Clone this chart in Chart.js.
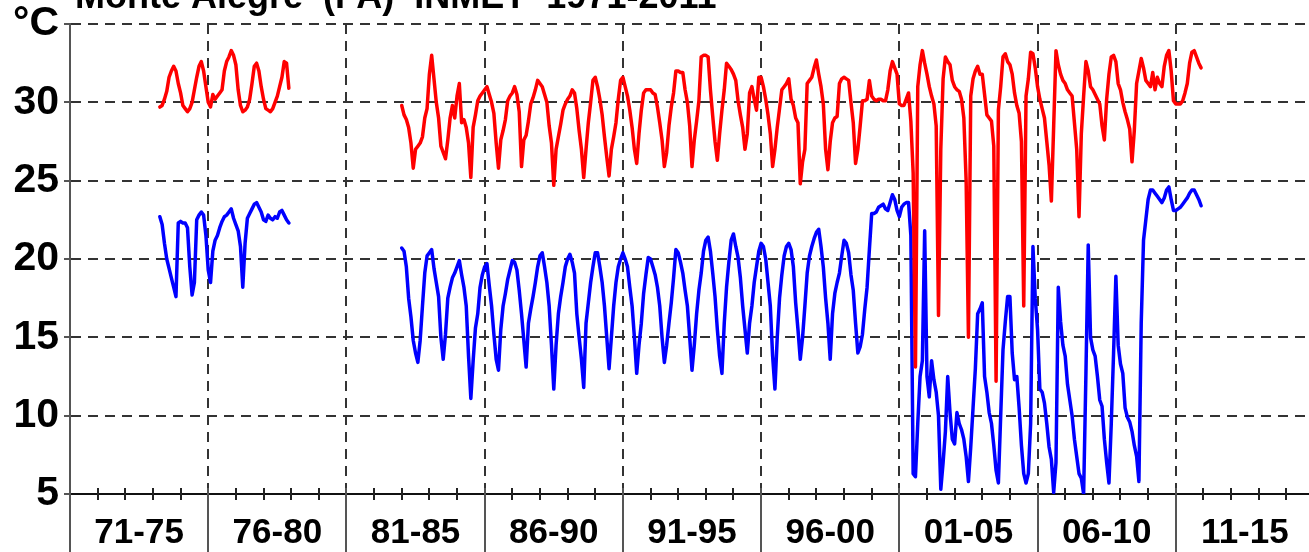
<!DOCTYPE html>
<html>
<head>
<meta charset="utf-8">
<script src="https://cdn.jsdelivr.net/npm/chart.js@4.4.1/dist/chart.umd.min.js"></script>
<style>
    html, body { margin: 0; padding: 0; background: #fff; overflow: hidden; }
    #wrap { position: absolute; left: 0; top: -40px; width: 1340px; height: 600px; }
</style>
</head>
<body>
<div id="wrap"><canvas id="chart" width="1340" height="600"></canvas></div>
<script>
const chartTitle = 'Monte Alegre  (PA)  INMET  1971-2011';
const periodLabels = ['71-75', '76-80', '81-85', '86-90', '91-95', '96-00', '01-05', '06-10', '11-15'];
const yTicks = [5, 10, 15, 20, 25, 30, 35];

// first run of monthly data: Apr 1974 - Dec 1978
const seg1Start = 1974 + 3 / 12;
const tmax1 = [
    29.7, 29.8, 30.2, 30.7, 31.6, 32.0, 32.3, 32.0, 31.2,
    30.6, 29.8, 29.6, 29.4, 29.6, 30.0, 30.8, 31.6, 32.3, 32.6, 32.0, 31.0,
    30.0, 29.7, 30.5, 30.2, 30.4, 30.6, 30.8, 32.0, 32.6, 32.9, 33.3, 33.0,
    32.4, 30.8, 29.8, 29.4, 29.5, 29.7, 30.2, 31.2, 32.3, 32.5, 32.0, 31.0,
    30.2, 29.6, 29.5, 29.4, 29.6, 30.0, 30.4, 31.0, 31.6, 32.6, 32.5, 30.9
];
const tmin1 = [
    22.7, 22.2, 21.0, 20.0, 19.4, 18.8, 18.2, 17.6, 22.3,
    22.4, 22.3, 22.3, 22.0, 19.5, 17.7, 18.5, 22.5, 22.8, 23.0, 22.8, 21.5,
    19.3, 18.5, 20.5, 21.2, 21.5, 22.0, 22.4, 22.7, 22.8, 23.0, 23.2, 22.6,
    22.2, 21.8, 20.8, 18.2, 21.0, 22.6, 22.9, 23.2, 23.5, 23.6, 23.3, 23.0,
    22.5, 22.4, 22.8, 22.6, 22.5, 22.7, 22.6, 23.0, 23.1, 22.8, 22.5, 22.3
];

// second run: Jan 1983 - Dec 2011
const seg2Start = 1983;
const tmax2 = [
    29.8, 29.2, 28.9, 28.4, 27.4, 25.8, 27.0, 27.2, 27.4, 27.8, 29.0, 29.6,
    31.8, 33.0, 31.5, 30.0, 29.0, 27.2, 26.8, 26.4, 27.6, 29.0, 29.8, 29.0,
    30.4, 31.2, 28.7, 28.9, 28.4, 27.4, 25.2, 28.4, 29.2, 30.1, 30.4, 30.6,
    30.8, 31.0, 30.5, 30.0, 29.3, 27.4, 25.8, 27.6, 28.2, 28.9, 30.1, 30.4,
    30.6, 31.0, 30.5, 29.4, 25.9, 27.6, 27.9, 28.8, 29.9, 30.3, 30.8, 31.4,
    31.2, 31.0, 30.5, 30.0, 28.5, 27.4, 24.7, 27.0, 27.8, 28.6, 29.5, 29.9,
    30.2, 30.4, 30.8, 30.6, 29.6, 28.2, 27.0, 25.2, 27.0, 28.7, 30.0, 31.4,
    31.6, 31.0, 30.2, 29.2, 27.8, 26.5, 25.3, 27.0, 27.8, 28.7, 30.2, 31.4,
    31.6, 31.0, 30.4, 29.5, 28.4, 27.0, 26.1, 28.0, 29.5, 30.6, 30.8, 30.8,
    30.8, 30.6, 30.5, 29.7, 28.7, 27.6, 25.9, 26.8, 28.5, 29.7, 30.6, 32.0,
    32.0, 31.9, 31.9, 30.8, 30.0, 28.5, 25.9, 27.6, 28.8, 30.1, 32.9, 33.0,
    33.0, 32.9, 30.8, 29.1, 27.5, 26.3, 28.0, 29.5, 30.8, 32.5, 32.3, 32.1,
    31.8, 31.4, 30.1, 29.2, 28.4, 27.0, 28.0, 30.6, 31.0, 30.2, 29.5, 31.6,
    31.6, 31.0, 30.2, 29.2, 28.0, 25.9, 27.0, 28.4, 29.6, 30.8, 31.0, 31.2,
    31.5, 30.2, 29.8, 29.0, 28.7, 24.8, 26.2, 27.0, 31.2, 31.4, 31.6, 32.2,
    32.7, 31.8, 31.0, 29.9, 27.0, 25.7, 27.5, 28.7, 29.0, 29.1, 31.2, 31.5,
    31.6, 31.5, 31.4, 30.0, 28.7, 26.1, 27.0, 28.5, 30.1, 30.1, 30.2, 31.4,
    30.4, 30.2, 30.1, 30.2, 30.2, 30.1, 30.1, 30.8, 32.0, 32.6, 32.2, 31.8,
    29.9, 29.8, 29.8, 30.2, 30.6, 28.8, 25.5, 13.1, 31.0, 32.4, 33.3, 32.5,
    31.8, 31.0, 30.4, 29.9, 28.5, 16.4, 27.0, 31.5, 32.9, 32.6, 32.4, 31.4,
    31.0, 30.8, 30.7, 30.2, 29.0, 25.0, 15.0, 30.4, 31.5, 32.0, 32.3, 31.8,
    31.8, 30.5, 29.2, 29.0, 28.8, 27.2, 12.2, 29.5, 31.0, 32.9, 33.1, 32.6,
    32.4, 31.8, 30.6, 29.8, 29.3, 27.5, 17.0, 30.4, 31.5, 33.2, 33.1, 32.2,
    31.0, 30.2, 29.6, 29.0, 27.5, 26.0, 23.7, 28.5, 33.3, 32.4, 31.8, 31.4,
    31.2, 30.8, 30.6, 30.4, 28.7, 27.0, 22.7, 28.0, 30.4, 32.6, 32.0, 31.0,
    30.8, 30.5, 30.2, 29.9, 28.5, 27.6, 30.2, 31.8, 32.9, 33.0, 32.6, 31.2,
    30.8, 30.0, 29.4, 28.9, 28.3, 26.2, 28.2, 31.2, 32.0, 32.8, 32.2, 31.4,
    31.2, 31.0, 31.9, 30.8, 31.6, 31.2, 31.0, 32.3, 33.0, 33.3, 32.0, 30.1,
    29.9, 29.9, 29.9, 30.1, 30.6, 31.2, 32.5, 33.2, 33.3, 32.9, 32.5, 32.2
];
const tmin2 = [
    20.7, 20.5, 19.5, 17.5, 16.3, 14.8, 14.0, 13.4, 14.8, 17.0, 19.1, 20.2,
    20.4, 20.6, 19.4, 18.5, 17.6, 15.0, 13.6, 15.2, 17.5, 18.2, 18.8, 19.1,
    19.5, 19.9, 19.0, 18.2, 17.0, 13.8, 11.1, 13.5, 15.6, 16.5, 18.2, 19.0,
    19.5, 19.7, 18.3, 17.0, 15.2, 13.6, 12.9, 15.5, 17.0, 17.8, 18.7, 19.3,
    19.9, 19.8, 19.3, 18.0, 16.5, 14.8, 13.1, 15.9, 16.8, 17.6, 18.5, 19.5,
    20.2, 20.4, 19.5, 18.5, 17.0, 14.5, 11.7, 14.5, 16.5, 17.6, 18.5, 19.5,
    20.0, 20.3, 19.8, 19.1, 16.5, 15.0, 13.6, 11.8, 15.9, 17.2, 18.5, 19.5,
    20.4, 20.4, 19.5, 18.5, 17.0, 15.0, 13.0, 15.0, 17.0, 18.5, 19.5, 20.0,
    20.4, 20.0, 19.5, 18.2, 17.0, 15.0, 12.7, 14.5, 15.9, 17.8, 19.0, 20.1,
    20.0, 19.5, 19.0, 18.2, 17.0, 15.0, 13.4, 14.5, 15.9, 17.2, 18.8, 20.6,
    20.4, 19.8, 19.1, 18.0, 17.0, 15.0, 12.9, 14.5, 16.5, 18.0, 19.1, 20.5,
    21.2, 21.4, 20.5, 19.1, 17.6, 15.5, 13.8, 12.7, 15.9, 18.2, 19.8, 21.2,
    21.6, 20.8, 20.1, 18.8, 17.0, 15.5, 14.0, 15.9, 17.0, 18.5, 19.5, 20.5,
    21.0, 20.8, 20.0, 18.5, 17.0, 13.8, 11.7, 15.0, 17.5, 19.0, 20.2, 20.8,
    21.0, 20.6, 19.5, 17.2, 15.5, 13.6, 15.0, 17.0, 19.1, 20.2, 20.8, 21.3,
    21.7, 21.9, 20.8, 19.5, 17.5, 15.9, 13.6, 16.5, 17.8, 18.5, 19.1, 20.2,
    21.2, 21.0, 20.4, 19.0, 18.0, 15.9, 14.0, 14.4, 15.2, 16.8, 18.2, 20.6,
    22.9, 22.9, 23.0, 23.3, 23.4, 23.5, 23.2, 23.1, 23.6, 24.1, 23.8, 23.1,
    22.7, 23.3, 23.5, 23.6, 23.6, 21.5, 6.3, 6.1, 9.5, 12.5, 13.5, 21.8,
    12.5, 11.2, 13.5, 12.3, 11.5, 10.0, 5.3, 7.0, 9.0, 12.5, 10.2, 8.5,
    8.2, 10.2, 9.5, 9.1, 8.5, 7.4, 5.8, 8.0, 10.5, 13.0, 16.5, 16.8,
    17.2, 12.5, 11.5, 10.2, 9.5, 8.1, 6.5, 5.7, 10.0, 14.2, 16.0, 17.6,
    17.6, 14.0, 12.3, 12.5, 10.5, 8.1, 6.3, 5.7, 6.3, 9.5, 20.8, 17.5,
    15.5, 11.7, 11.5, 10.8, 9.5, 8.0, 7.2, 5.1, 7.0, 18.2, 16.0, 14.5,
    13.8, 12.0, 11.0, 10.0, 8.5, 7.4, 6.3, 6.0, 5.0, 12.7, 20.9, 15.0,
    14.2, 13.8, 12.5, 11.0, 10.6, 8.5, 7.0, 5.7, 9.5, 14.0, 18.9, 14.5,
    13.3, 12.7, 10.5, 9.9, 9.6, 9.0, 8.1, 7.4, 5.8, 15.9, 21.2, 22.5,
    23.8, 24.4, 24.4, 24.2, 24.0, 23.8, 23.6, 23.9, 24.4, 24.6, 23.8, 23.1,
    23.1, 23.2, 23.3, 23.5, 23.7, 23.9, 24.2, 24.4, 24.4, 24.1, 23.8, 23.4
];

// the original lettering is a condensed bold face; fall back to Arial if missing
const FONT = "'Liberation Sans Narrow', 'Arial Narrow', Arial, 'Liberation Sans', sans-serif";

// pick a font size so a sample string gets the width seen in the picture
function fitSize(text, targetW) {
    const c = document.createElement('canvas').getContext('2d');
    c.font = 'bold 100px ' + FONT;
    return Math.round(100 * targetW / c.measureText(text).width);
}
const xLabelSize = fitSize('71-75', 90);
const yLabelSize = fitSize('30', 46);
const titleSize = fitSize(chartTitle, 636);

// one point per month, null between the two runs so the line breaks
function toPoints(start, values) {
    return values.map((v, i) => ({ x: start + i / 12, y: v }));
}
function series(a1, a2) {
    return [...toPoints(seg1Start, a1), { x: 1980, y: null }, ...toPoints(seg2Start, a2)];
}

const isMajor = v => (v - 1971) % 5 === 0;

// extra axis bits: yearly minor ticks, solid separators under the axis, title
const axisDecor = {
    id: 'axisDecor',
    afterDraw(chart) {
        const { ctx, scales: { x, y } } = chart;
        const base = y.getPixelForValue(5);
        ctx.save();
        ctx.lineWidth = 2;
        ctx.strokeStyle = '#222';
        for (let yr = 1972; yr < 2016; yr++) {
            if (isMajor(yr)) continue;
            const px = Math.round(x.getPixelForValue(yr));
            ctx.beginPath();
            ctx.moveTo(px, base - 6);
            ctx.lineTo(px, base + 6);
            ctx.stroke();
        }
        ctx.strokeStyle = '#555';
        for (let yr = 1971; yr <= 2016; yr += 5) {
            const px = Math.round(x.getPixelForValue(yr));
            ctx.beginPath();
            ctx.moveTo(px, base - 6);
            ctx.lineTo(px, chart.height);
            ctx.stroke();
        }
        ctx.fillStyle = '#000';
        ctx.font = 'bold ' + titleSize + 'px ' + FONT;
        ctx.textBaseline = 'alphabetic';
        ctx.fillText(chartTitle, 75, 48);
        ctx.restore();
    }
};

new Chart(document.getElementById('chart'), {
    type: 'line',
    data: {
        datasets: [{
            label: 'Tmax',
            data: series(tmax1, tmax2),
            borderColor: '#ff0000',
            order: 0
        }, {
            label: 'Tmin',
            data: series(tmin1, tmin2),
            borderColor: '#0000ff',
            order: 1
        }]
    },
    options: {
        responsive: false,
        animation: false,
        devicePixelRatio: 1,
        spanGaps: false,
        layout: { padding: { top: 64, right: 26, left: 0, bottom: 0 } },
        elements: {
            line: { borderWidth: 3.5, tension: 0, borderJoinStyle: 'round', borderCapStyle: 'round' },
            point: { radius: 0 }
        },
        plugins: {
            legend: { display: false },
            tooltip: { enabled: false },
            title: { display: false }
        },
        scales: {
            x: {
                type: 'linear',
                min: 1971,
                max: 2016,
                afterBuildTicks: s => {
                    const t = [];
                    for (let v = 1971; v <= 2016; v += 0.5) t.push({ value: v });
                    s.ticks = t;
                },
                afterFit: s => { s.height = 66; },
                ticks: {
                    autoSkip: false,
                    maxRotation: 0,
                    padding: Math.round(38.5 - 0.6 * xLabelSize),
                    color: '#000',
                    font: { family: FONT, size: xLabelSize, weight: 'bold' },
                    callback: v => {
                        const k = (v - 1973.5) / 5;
                        return Number.isInteger(k) ? periodLabels[k] : '';
                    }
                },
                grid: {
                    color: c => (c.tick && isMajor(c.tick.value) && c.tick.value > 1971) ? '#333' : 'rgba(0,0,0,0)',
                    lineWidth: 2,
                    drawTicks: false
                },
                border: { display: true, color: '#111', width: 2, dash: [10, 7] }
            },
            y: {
                min: 5,
                max: 35,
                afterBuildTicks: s => { s.ticks = yTicks.map(v => ({ value: v })); },
                afterFit: s => { s.width = 70; },
                ticks: {
                    padding: 5,
                    color: '#000',
                    font: { family: FONT, size: yLabelSize, weight: 'bold' },
                    callback: v => v === 35 ? '°C' : String(v)
                },
                grid: {
                    color: c => (c.tick && c.tick.value > 5) ? '#333' : 'rgba(0,0,0,0)',
                    lineWidth: 2,
                    tickLength: 6,
                    tickColor: '#555'
                },
                border: { display: true, color: '#555', width: 2, dash: [10, 7] }
            }
        }
    },
    plugins: [axisDecor]
});
</script>
</body>
</html>
